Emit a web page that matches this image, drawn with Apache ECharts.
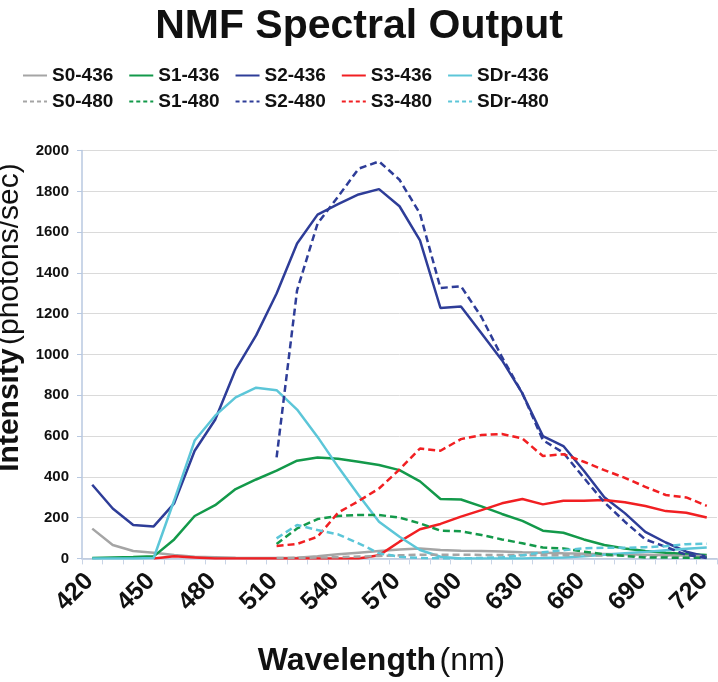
<!DOCTYPE html>
<html>
<head>
<meta charset="utf-8">
<script src="https://cdn.jsdelivr.net/npm/echarts@6/dist/echarts.min.js"></script>
<style>
html,body{margin:0;padding:0;background:#fff;}
#chart{width:718px;height:682px;}
</style>
</head>
<body>
<div id="chart"></div>
<script>
var wavelengths = [420,430,440,450,460,470,480,490,500,510,520,530,540,550,560,570,580,590,600,610,620,630,640,650,660,670,680,690,700,710,720];
var xTickLabels = ['420','450','480','510','540','570','600','630','660','690','720'];
var yTicks = [0,200,400,600,800,1000,1200,1400,1600,1800,2000];

var S0_436 = [146,66,36,28,17,8,6,3,2,2,3,10,20,28,36,44,48,41,38,36,34,30,28,25,23,22,20,18,16,14,12];
var S1_436 = [2,5,7,10,93,208,261,340,387,430,479,495,489,474,458,433,378,291,289,255,218,184,136,126,93,66,49,36,28,21,17];
var S2_436 = [361,245,164,157,270,528,680,926,1094,1299,1544,1686,1737,1785,1811,1727,1560,1228,1235,1104,972,809,600,551,430,300,222,130,78,33,8];
var S3_436 = [null,null,null,0,10,5,0,0,0,0,0,0,0,0,15,82,143,169,205,237,270,291,265,283,283,286,275,257,232,224,201];
var SDr_436 = [0,0,0,2,285,578,700,790,837,825,730,596,449,311,180,106,41,8,0,0,0,0,2,5,10,18,25,32,40,47,53];

var S0_480 = [null,null,null,null,null,null,null,null,null,2,3,4,6,9,12,15,18,18,18,17,17,16,16,15,15,14,14,13,13,12,12];
var S1_480 = [null,null,null,null,null,null,null,null,null,71,147,193,208,213,213,200,172,136,133,115,93,74,53,49,33,20,12,5,4,3,4];
var S2_480 = [null,null,null,null,null,null,null,null,null,495,1315,1642,1774,1911,1947,1857,1691,1326,1335,1184,988,809,580,518,395,275,180,93,57,17,2];
var S3_480 = [null,null,null,null,null,null,null,null,null,61,71,106,224,281,343,436,539,528,585,605,610,588,502,511,474,433,395,351,311,299,258];
var SDr_480 = [null,null,null,null,null,null,null,null,null,98,164,139,118,74,25,8,2,0,0,2,5,15,30,40,50,52,52,55,60,70,72];

var names436 = ['S0-436','S1-436','S2-436','S3-436','SDr-436'];
var names480 = ['S0-480','S1-480','S2-480','S3-480','SDr-480'];
var colors = ['#a5a5a5','#13994a','#2e3d98','#f11f22','#5cc6d8'];
var data436 = [S0_436,S1_436,S2_436,S3_436,SDr_436];
var data480 = [S0_480,S1_480,S2_480,S3_480,SDr_480];

var series = [];
for (var i = 0; i < 5; i++) {
  series.push({name: names436[i], type: 'line', data: data436[i], symbol: 'none', smooth: false,
    lineStyle: {color: colors[i], width: 2.5, type: 'solid'}, itemStyle: {color: colors[i]}});
}
for (var j = 0; j < 5; j++) {
  series.push({name: names480[j], type: 'line', data: data480[j], symbol: 'none', smooth: false,
    lineStyle: {color: colors[j], width: 2.5, type: [7, 4]}, itemStyle: {color: colors[j]}});
}

var legendText = {fontFamily: 'Liberation Sans', fontWeight: 'bold', fontSize: 19, color: '#111'};
function legendData(arr, dashed) {
  return arr.map(function (n) {
    return dashed ? {name: n, lineStyle: {type: [4, 3]}} : {name: n};
  });
}

var chart = echarts.init(document.getElementById('chart'), null, {renderer: 'canvas'});
chart.setOption({
  animation: false,
  backgroundColor: '#fff',
  title: {
    text: 'NMF Spectral Output', left: 'center', top: 1,
    textStyle: {fontFamily: 'Liberation Sans', fontWeight: 'bold', fontSize: 41, color: '#111'}
  },
  legend: [
    {data: legendData(names436, false), left: 22, top: 66, itemWidth: 24, itemHeight: 14, itemGap: 15, textStyle: legendText, padding: 0,
      itemStyle: {opacity: 0}},
    {data: legendData(names480, true), left: 22, top: 92, itemWidth: 24, itemHeight: 14, itemGap: 15, textStyle: legendText, padding: 0,
      itemStyle: {opacity: 0}}
  ],
  grid: {left: 82, right: 1, top: 150.6, bottom: 123.6, containLabel: false, outerBoundsMode: 'none'},
  xAxis: {
    type: 'category', data: wavelengths, boundaryGap: true,
    axisLine: {lineStyle: {color: '#b8c8e0', width: 1.5}},
    axisTick: {show: true, interval: 0, length: 6, lineStyle: {color: '#c8d4e6'}},
    axisLabel: {interval: 2, rotate: 45, margin: 16, padding: [0, 4, 0, 0], fontFamily: 'Liberation Sans', fontWeight: 'bold', fontSize: 25, color: '#111',
      formatter: function (v) { return xTickLabels.indexOf(String(v)) >= 0 ? String(v) : ''; }},
    splitLine: {show: false},
    name: '{b|Wavelength} {n|(nm)}', nameLocation: 'middle', nameGap: 87,
    nameTextStyle: {padding: [0, 36, 0, 0], rich: {
      b: {fontFamily: 'Liberation Sans', fontWeight: 'bold', fontSize: 32, color: '#111'},
      n: {fontFamily: 'Liberation Sans', fontWeight: 'normal', fontSize: 32, color: '#111'}}}
  },
  yAxis: {
    type: 'value', min: 0, max: 2000, interval: 200,
    axisLine: {show: true, lineStyle: {color: '#b8c8e0', width: 1.5}},
    axisTick: {show: true, length: 5, lineStyle: {color: '#b8c8e0'}},
    axisLabel: {margin: 13, fontFamily: 'Liberation Sans', fontWeight: 'bold', fontSize: 15, color: '#111',
      formatter: function (v) { return String(v); }},
    splitLine: {lineStyle: {color: '#dadada', width: 1}},
    name: '{b|Intensity} {n|(photons/sec)}', nameLocation: 'middle', nameRotate: 90, nameGap: 49,
    nameTextStyle: {padding: [0, 0, 0, 74], rich: {
      b: {fontFamily: 'Liberation Sans', fontWeight: 'bold', fontSize: 30, color: '#111'},
      n: {fontFamily: 'Liberation Sans', fontWeight: 'normal', fontSize: 30, color: '#111'}}}
  },
  series: series
});
</script>
</body>
</html>
